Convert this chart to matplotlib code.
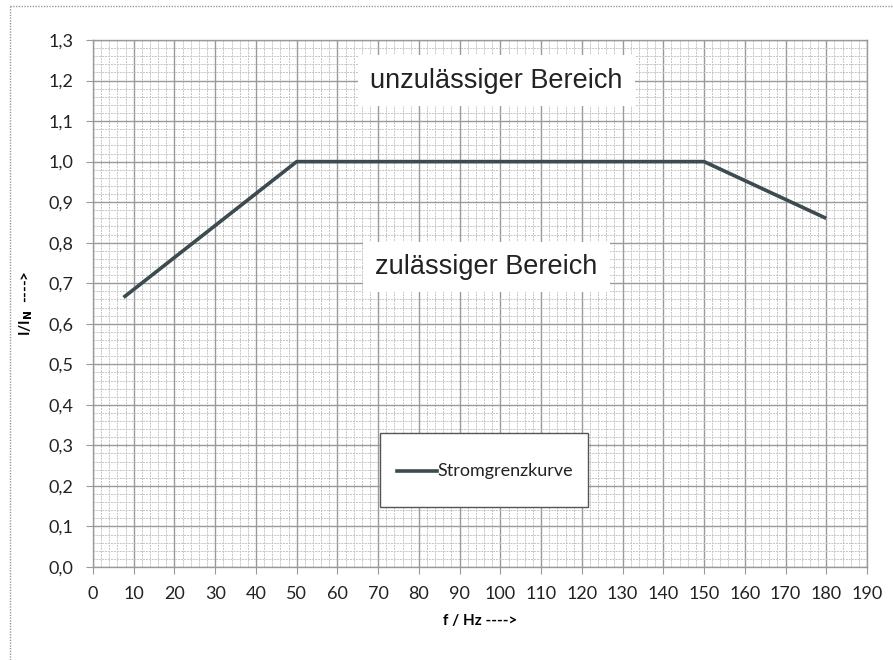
import matplotlib
matplotlib.use("Agg")
import matplotlib.pyplot as plt
from matplotlib.ticker import MultipleLocator, FuncFormatter
from matplotlib.lines import Line2D
from matplotlib.patches import Rectangle

freq = [7.5, 50, 150, 180]
current = [0.665, 1.0, 1.0, 0.86]
x_ticks = list(range(0, 191, 10))
y_ticks = [round(i * 0.1, 1) for i in range(14)]
series_name = 'Stromgrenzkurve'

fig = plt.figure(figsize=(8.93, 6.6), dpi=100)
ax = fig.add_axes([93/893, 1-567/660, (867-93)/893, (567-40)/660])

ax.set_xlim(0, 190)
ax.set_ylim(0, 1.3)
ax.set_xticks(x_ticks)
ax.set_yticks(y_ticks)
ax.xaxis.set_minor_locator(MultipleLocator(2))
ax.yaxis.set_minor_locator(MultipleLocator(0.02))
ax.yaxis.set_major_formatter(FuncFormatter(lambda v, p: f"{v:.1f}".replace('.', ',')))

ax.grid(which='major', color='#9a9a9a', linewidth=1.0)
ax.grid(which='minor', color='#c4c4c4', linewidth=0.7, linestyle=(0, (2, 1)))
ax.set_axisbelow(True)
for s in ax.spines.values():
    s.set_color('#9a9a9a')
    s.set_linewidth(1.0)
ax.tick_params(which='major', length=5, color='#9a9a9a', labelsize=13, pad=9)
ax.tick_params(which='minor', length=0)
for lab in ax.get_xticklabels() + ax.get_yticklabels():
    lab.set_fontfamily('Lato')
    lab.set_color('#222222')

line_color = '#3c4b50'
ax.plot(freq, current, color=line_color, linewidth=2.6, solid_capstyle='butt', zorder=3,
        label=series_name)

ax.set_xlabel('f / Hz ---->', fontfamily='Lato', fontweight='bold', fontsize=11, labelpad=8)
ax.set_ylabel(r'I/I$_\mathbf{N}$  ---->', fontfamily='Lato', fontweight='bold', fontsize=11, labelpad=10)

ax.text(99, 1.2, 'unzulässiger Bereich', fontfamily='Liberation Sans', fontsize=19.5,
        ha='center', va='center', color='#222222', zorder=4,
        bbox=dict(facecolor='white', edgecolor='none', pad=9))
ax.text(96.5, 0.74, 'zulässiger Bereich', fontfamily='Liberation Sans', fontsize=19.5,
        ha='center', va='center', color='#222222', zorder=4,
        bbox=dict(facecolor='white', edgecolor='none', pad=9))

# legend box drawn in axes coordinates
lx0, lx1 = (380-93)/774, (588-93)/774
ly0, ly1 = (567-507)/527, (567-433)/527
ax.add_patch(Rectangle((lx0, ly0), lx1-lx0, ly1-ly0, transform=ax.transAxes,
                       facecolor='white', edgecolor='#555555', linewidth=1.0, zorder=5))
hy = (567-471)/527
hx0, hx1 = (397-93)/774, (437-93)/774
ax.add_line(Line2D([hx0, hx1], [hy, hy], transform=ax.transAxes, color=line_color,
                   linewidth=2.6, zorder=6))
ax.text(hx1, hy, series_name, transform=ax.transAxes, fontfamily='Lato', fontsize=13,
        ha='left', va='center', color='#222222', zorder=6)

# outer chart border (left and top visible)
fig.add_artist(Line2D([10/893, 10/893], [0, 1-6/660], color='#999999', linewidth=1.0, linestyle=(0, (1, 1))))
fig.add_artist(Line2D([10/893, 1], [1-6/660, 1-6/660], color='#999999', linewidth=1.0, linestyle=(0, (1, 1))))

fig.savefig('out.png', dpi=100)
